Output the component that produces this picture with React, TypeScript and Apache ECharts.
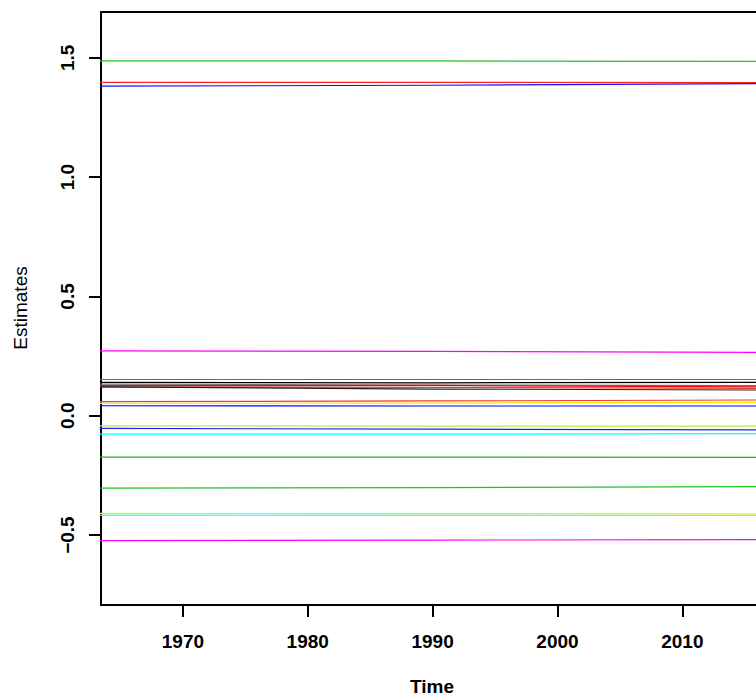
import React, { useEffect, useRef } from "react";
import * as echarts from "echarts";

// Time points (start, middle, end) of each estimate path
const years = [1963, 1990, 2016];

// Tick labels
const xTicks = [1970, 1980, 1990, 2000, 2010];
const yTicks = [-0.5, 0, 0.5, 1.0, 1.5];

// Estimate series (values at the years above)
const green1 = [1.487, 1.487, 1.485];
const red1 = [1.397, 1.397, 1.396];
const blue1 = [1.381, 1.385, 1.392];
const magenta1 = [0.272, 0.27, 0.266];
const magenta2 = [0.152, 0.152, 0.152];
const black1 = [0.14, 0.138, 0.14];
const gray1 = [0.133, 0.129, 0.126];
const red2 = [0.126, 0.127, 0.121];
const red3 = [0.121, 0.119, 0.115];
const black2 = [0.121, 0.112, 0.108];
const red4 = [0.059, 0.062, 0.066];
const yellow1 = [0.052, 0.053, 0.056];
const blue2 = [0.042, 0.041, 0.041];
const yellowGreen1 = [-0.042, -0.043, -0.043];
const blue3 = [-0.053, -0.056, -0.059];
const cyan1 = [-0.077, -0.077, -0.075];
const green2 = [-0.173, -0.173, -0.174];
const green3 = [-0.303, -0.301, -0.297];
const cyan2 = [-0.416, -0.416, -0.417];
const yellow2 = [-0.409, -0.41, -0.411];
const magenta3 = [-0.523, -0.521, -0.519];

const seriesList: { name: string; values: number[]; color: string }[] = [
  { name: "g1", values: green1, color: "#1fc41f" },
  { name: "r1", values: red1, color: "#ff2020" },
  { name: "b1", values: blue1, color: "#1010ff" },
  { name: "m1", values: magenta1, color: "#ff00ff" },
  { name: "m2", values: magenta2, color: "#ff00ff" },
  { name: "k1", values: black1, color: "#000000" },
  { name: "gr1", values: gray1, color: "#707070" },
  { name: "r2", values: red2, color: "#ff0000" },
  { name: "r3", values: red3, color: "#e04040" },
  { name: "k2", values: black2, color: "#202020" },
  { name: "r4", values: red4, color: "#ff3030" },
  { name: "y1", values: yellow1, color: "#ffee00" },
  { name: "b2", values: blue2, color: "#0000ff" },
  { name: "yg1", values: yellowGreen1, color: "#b8f03c" },
  { name: "b3", values: blue3, color: "#2020ff" },
  { name: "c1", values: cyan1, color: "#00ffff" },
  { name: "g2", values: green2, color: "#1cb81c" },
  { name: "g3", values: green3, color: "#22c422" },
  { name: "c2", values: cyan2, color: "#40f0f0" },
  { name: "y2", values: yellow2, color: "#f2f200" },
  { name: "m3", values: magenta3, color: "#ff00ff" },
];

const FONT = "'Liberation Sans', Arial, Helvetica, sans-serif";

export default function App() {
  const ref = useRef<HTMLDivElement>(null);

  useEffect(() => {
    if (!ref.current) return;
    const chart = echarts.init(ref.current, undefined, { renderer: "svg" });
    const xMin = 1963.44;
    const xMax = 2015.9;
    chart.setOption({
      animation: false,
      backgroundColor: "#ffffff",
      grid: { left: 101, top: 12, right: 0, bottom: 93, containLabel: false },
      xAxis: [
        {
          type: "value",
          min: xMin,
          max: xMax,
          position: "bottom",
          splitLine: { show: false },
          axisLine: { show: true, onZero: false, lineStyle: { color: "#000", width: 2 } },
          axisTick: { show: true, length: 12, lineStyle: { color: "#000", width: 2 }, customValues: xTicks },
          axisLabel: {
            show: true,
            customValues: xTicks,
            margin: 27,
            color: "#000",
            fontSize: 19,
            fontWeight: "bold",
            fontFamily: FONT,
            formatter: (v: number) => String(Math.round(v)),
          },
        },
        {
          type: "value",
          min: xMin,
          max: xMax,
          position: "top",
          splitLine: { show: false },
          axisLine: { show: true, onZero: false, lineStyle: { color: "#000", width: 2 } },
          axisTick: { show: false },
          axisLabel: { show: false },
        },
      ],
      yAxis: {
        type: "value",
        min: -0.793,
        max: 1.692,
        splitLine: { show: false },
        axisLine: { show: true, onZero: false, lineStyle: { color: "#000", width: 2 } },
        axisTick: { show: true, length: 12, lineStyle: { color: "#000", width: 2 }, customValues: yTicks },
        axisLabel: {
          show: true,
          customValues: yTicks,
          rotate: 90,
          margin: 24,
          color: "#000",
          fontSize: 19,
          fontWeight: "bold",
          fontFamily: FONT,
          formatter: (v: number) => v.toFixed(1).replace("-", "\u2212"),
        },
      },
      graphic: [
        {
          type: "text",
          x: 432,
          y: 686,
          style: {
            text: "Time",
            fill: "#000",
            fontSize: 19,
            fontWeight: "bold",
            fontFamily: FONT,
            align: "center",
            verticalAlign: "middle",
          },
        },
        {
          type: "text",
          x: 20,
          y: 308,
          rotation: Math.PI / 2,
          style: {
            text: "Estimates",
            fill: "#000",
            fontSize: 19,
            fontFamily: FONT,
            align: "center",
            verticalAlign: "middle",
          },
        },
      ],
      series: seriesList.map((s) => ({
        name: s.name,
        type: "line",
        xAxisIndex: 0,
        data: years.map((yr, i) => [yr, s.values[i]]),
        showSymbol: false,
        symbol: "none",
        silent: true,
        clip: true,
        lineStyle: { color: s.color, width: 1.2 },
      })),
    });
    return () => chart.dispose();
  }, []);

  return (
    <div
      ref={ref}
      style={{ position: "fixed", left: 0, top: 0, width: 756, height: 698 }}
    />
  );
}
